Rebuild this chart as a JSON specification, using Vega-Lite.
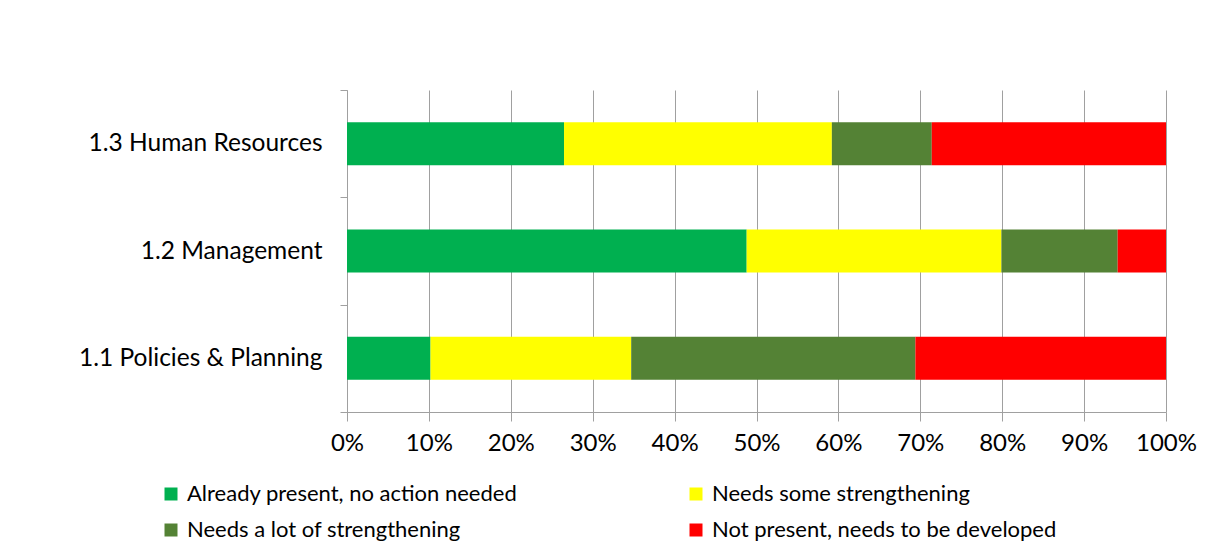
{
  "$schema": "https://vega.github.io/schema/vega-lite/v6.json",
  "autosize": {"type": "none"},
  "padding": {"left": 347, "top": 90, "right": 39, "bottom": 148},
  "width": 819,
  "height": 322,
  "background": "white",
  "data": {
    "values": [
      {"area": "1.3 Human Resources", "status": "Already present, no action needed", "idx": 1, "share": 0.265},
      {"area": "1.3 Human Resources", "status": "Needs some strengthening", "idx": 2, "share": 0.327},
      {"area": "1.3 Human Resources", "status": "Needs a lot of strengthening", "idx": 3, "share": 0.122},
      {"area": "1.3 Human Resources", "status": "Not present, needs to be developed", "idx": 4, "share": 0.286},
      {"area": "1.2 Management", "status": "Already present, no action needed", "idx": 1, "share": 0.488},
      {"area": "1.2 Management", "status": "Needs some strengthening", "idx": 2, "share": 0.311},
      {"area": "1.2 Management", "status": "Needs a lot of strengthening", "idx": 3, "share": 0.142},
      {"area": "1.2 Management", "status": "Not present, needs to be developed", "idx": 4, "share": 0.059},
      {"area": "1.1 Policies & Planning", "status": "Already present, no action needed", "idx": 1, "share": 0.102},
      {"area": "1.1 Policies & Planning", "status": "Needs some strengthening", "idx": 2, "share": 0.245},
      {"area": "1.1 Policies & Planning", "status": "Needs a lot of strengthening", "idx": 3, "share": 0.347},
      {"area": "1.1 Policies & Planning", "status": "Not present, needs to be developed", "idx": 4, "share": 0.306}
    ]
  },
  "mark": {"type": "bar", "height": {"band": 0.4}},
  "encoding": {
    "y": {
      "field": "area",
      "type": "nominal",
      "sort": ["1.3 Human Resources", "1.2 Management", "1.1 Policies & Planning"],
      "scale": {"paddingInner": 0, "paddingOuter": 0},
      "axis": {
        "title": null,
        "tickBand": "extent",
        "grid": false,
        "domainColor": "#a0a0a0",
        "tickColor": "#a0a0a0",
        "tickSize": 7,
        "labelPadding": 18,
        "labelFontSize": 24.5,
        "labelFont": "Lato",
        "labelColor": "#000000",
        "labelLimit": 400
      }
    },
    "x": {
      "field": "share",
      "type": "quantitative",
      "stack": "zero",
      "scale": {"domain": [0, 1], "nice": false},
      "axis": {
        "title": null,
        "format": ".0%",
        "values": [0, 0.1, 0.2, 0.3, 0.4, 0.5, 0.6, 0.7, 0.8, 0.9, 1],
        "labelOverlap": false,
        "grid": true,
        "gridColor": "#a0a0a0",
        "gridWidth": 1,
        "domainColor": "#a0a0a0",
        "tickColor": "#a0a0a0",
        "tickSize": 9,
        "labelPadding": 10,
        "labelFontSize": 24,
        "labelFont": "Lato",
        "labelColor": "#000000",
        "labelFlush": false
      }
    },
    "order": {"field": "idx", "type": "quantitative"},
    "color": {
      "field": "status",
      "type": "nominal",
      "scale": {
        "domain": ["Already present, no action needed", "Needs some strengthening", "Needs a lot of strengthening", "Not present, needs to be developed"],
        "range": ["#00b050", "#ffff00", "#548235", "#ff0000"]
      },
      "legend": {
        "title": null,
        "orient": "none",
        "legendX": -187,
        "legendY": 393,
        "direction": "horizontal",
        "columns": 2,
        "columnPadding": 167,
        "rowPadding": 14,
        "symbolType": "square",
        "symbolSize": 169,
        "symbolStrokeWidth": 0,
        "labelFontSize": 22,
        "labelFont": "Lato",
        "labelColor": "#000000",
        "labelOffset": 5,
        "labelLimit": 500
      }
    }
  },
  "config": {"view": {"stroke": null}}
}
